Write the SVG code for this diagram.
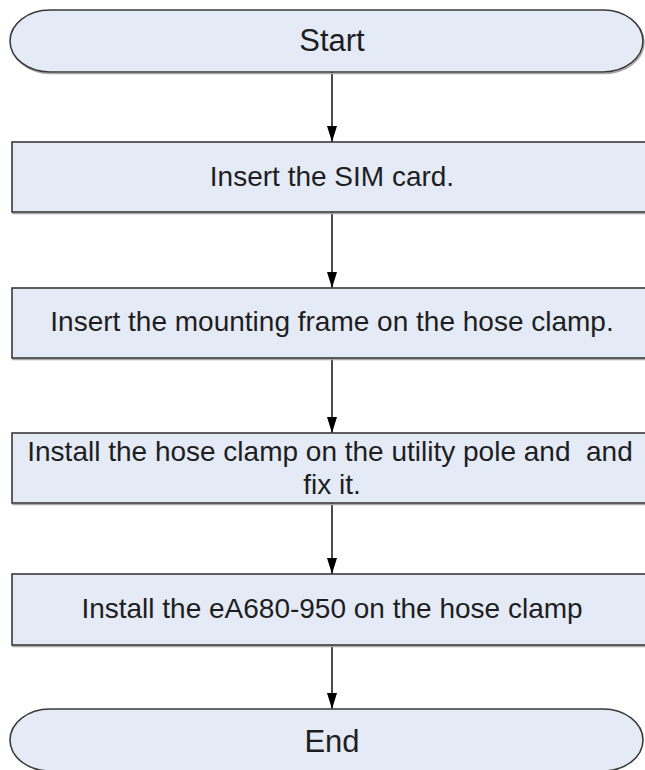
<svg xmlns="http://www.w3.org/2000/svg" width="645" height="770" viewBox="0 0 645 770">
<style>
.shape{fill:#E5EBF6;stroke:#3a3a3a;stroke-width:1.6}
.shadow{fill:none;stroke:#a8a8a8;stroke-width:1.5}
.lbl{font-family:"Liberation Sans",Arial,sans-serif;font-size:28px;fill:#1e1e1e;text-anchor:middle;white-space:pre}
.big{font-size:31px}
.conn{stroke:#000;stroke-width:1.4;fill:none;marker-end:url(#arrh)}
</style>
<defs>
<marker id="arrh" viewBox="0 0 16 10" markerUnits="userSpaceOnUse" markerWidth="16" markerHeight="10" refX="16" refY="5" orient="auto">
<path d="M0,0 L16,5 L0,10 Z" fill="#000"/>
</marker>
</defs>
<g id="connectors">
<line class="conn" x1="332" y1="72" x2="332" y2="142"/>
<line class="conn" x1="332" y1="212" x2="332" y2="288"/>
<line class="conn" x1="332" y1="358" x2="332" y2="433"/>
<line class="conn" x1="332" y1="503" x2="332" y2="574"/>
<line class="conn" x1="332" y1="645" x2="332" y2="709"/>
</g>
<g id="start">
<path class="shadow" d="M50,10 H603 A40,31 0 0 1 603,72 H50 A40,31 0 0 1 50,10 Z" transform="translate(1,1.5)"/>
<path class="shape" d="M50,10 H603 A40,31 0 0 1 603,72 H50 A40,31 0 0 1 50,10 Z"/>
<text class="lbl big" x="332" y="51">Start</text>
</g>
<g id="step1">
<rect class="shadow" x="13" y="143.5" width="640" height="70"/>
<rect class="shape" x="12" y="142" width="640" height="70"/>
<text class="lbl" x="332" y="186">Insert the SIM card.</text>
</g>
<g id="step2">
<rect class="shadow" x="13" y="289.5" width="640" height="70"/>
<rect class="shape" x="12" y="288" width="640" height="70"/>
<text class="lbl" x="332" y="331">Insert the mounting frame on the hose clamp.</text>
</g>
<g id="step3">
<rect class="shadow" x="13" y="434.5" width="640" height="70"/>
<rect class="shape" x="12" y="433" width="640" height="70"/>
<text class="lbl" x="330" y="461">Install the hose clamp on the utility pole and  and</text>
<text class="lbl" x="332" y="494">fix it.</text>
</g>
<g id="step4">
<rect class="shadow" x="13" y="575.5" width="640" height="71"/>
<rect class="shape" x="12" y="574" width="640" height="71"/>
<text class="lbl" x="332" y="618">Install the eA680-950 on the hose clamp</text>
</g>
<g id="end">
<path class="shape" d="M50,709 H603 A40,31 0 0 1 603,771 H50 A40,31 0 0 1 50,709 Z"/>
<text class="lbl big" x="332" y="752">End</text>
</g>
</svg>
